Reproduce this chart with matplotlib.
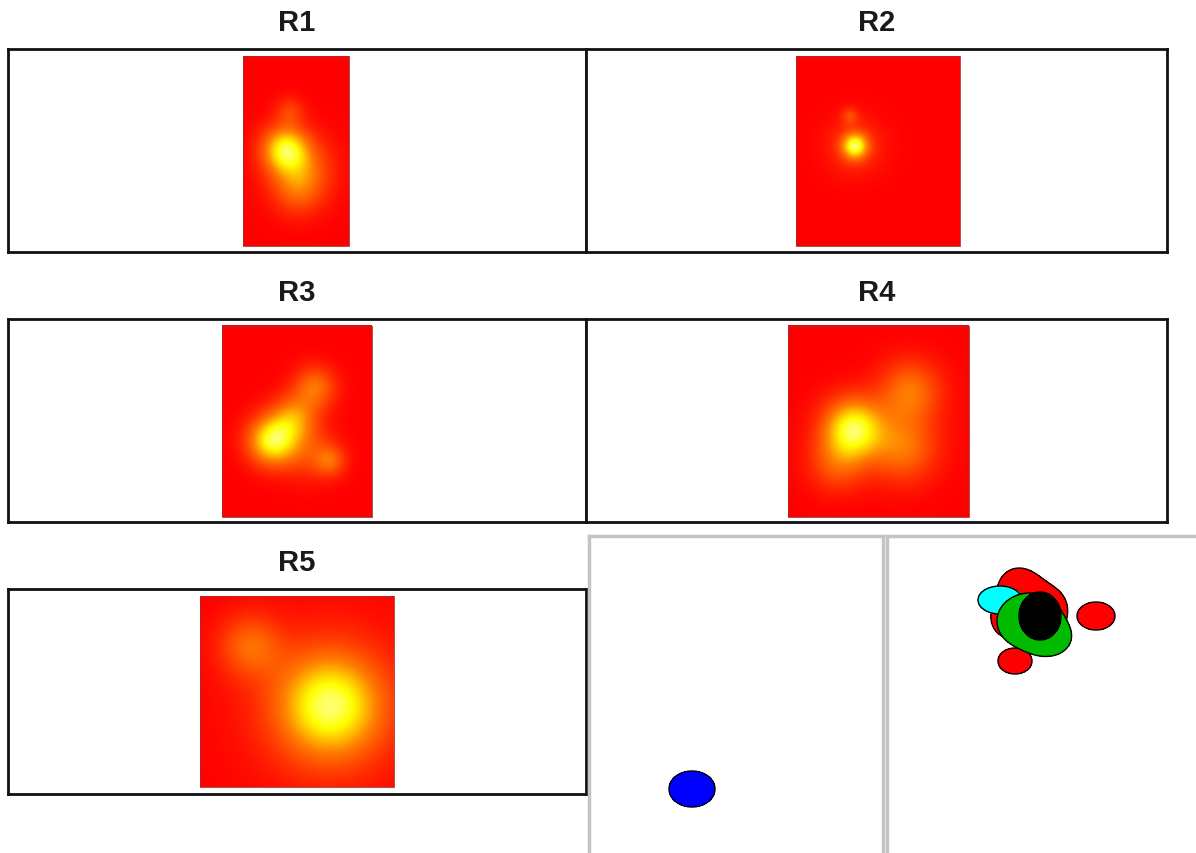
import numpy as np
import matplotlib
matplotlib.use("Agg")
import matplotlib.pyplot as plt
from matplotlib.colors import LinearSegmentedColormap

W, H = 1196, 854

# ---- data ---------------------------------------------------------------
titles = ["R1", "R2", "R3", "R4", "R5"]
# box extents in pixels (x0, y0, x1, y1)
boxes = [(8, 50, 586, 253), (586, 50, 1167, 253), (8, 320, 586, 523),
         (586, 320, 1167, 523), (8, 590, 586, 795)]
# heatmap extents in pixels
heat = [(243, 57, 349, 247), (796, 57, 960, 247), (222, 327, 372, 518),
        (788, 327, 969, 518), (200, 597, 394, 788)]
# hotspot components (local x, local y, sigma, amplitude)
R1_spots = [(42, 93, 16, 1.0), (58, 112, 22, 0.5), (47, 55, 10, 0.3), (55, 135, 18, 0.35)]
R2_spots = [(59, 90, 9, 1.0), (59, 90, 20, 0.25), (54, 60, 6, 0.3)]
R3_spots = [(50, 115, 17, 1.0), (72, 92, 16, 0.55), (93, 62, 15, 0.5),
            (108, 135, 11, 0.4), (85, 125, 20, 0.3)]
R4_spots = [(65, 103, 21, 1.0), (122, 66, 22, 0.5), (115, 122, 24, 0.5), (49, 138, 20, 0.35)]
R5_spots = [(130, 110, 36, 1.0), (130, 110, 62, 0.2), (50, 50, 22, 0.45)]
spots = [R1_spots, R2_spots, R3_spots, R4_spots, R5_spots]

# bottom-panel blobs: (color, [(cx, cy, rx, ry), ...])
left_blobs = [("#0000ff", [(692, 790, 23, 18)])]
right_blobs = [
    ("#ff0000", [(1018, 588, 18, 18), (1045, 610, 22, 22), (1010, 620, 18, 18), (1040, 630, 14, 14)]),
    ("#ff0000", [(1015, 662, 17, 13)]),
    ("#ff0000", [(1096, 617, 19, 14)]),
    ("#00ffff", [(1000, 601, 22, 14)]),
    ("#00bb00", [(1030, 622, 33, 28), (1050, 640, 15, 12)]),
    ("#000000", [(1040, 617, 21, 24)]),
]

# ---- drawing --------------------------------------------------------------
cmap = LinearSegmentedColormap.from_list(
    "hotred", [(0, "#ff0000"), (0.5, "#ff8000"), (0.85, "#ffff00"), (1.0, "#ffff70")])

fig = plt.figure(figsize=(W / 100, H / 100), dpi=100)
fig.patch.set_facecolor("white")


def px_axes(x0, y0, x1, y1):
    return fig.add_axes([x0 / W, 1 - y1 / H, (x1 - x0) / W, (y1 - y0) / H])


for t, b, h, sp in zip(titles, boxes, heat, spots):
    ax = px_axes(*b)
    ax.set_xlim(b[0], b[2])
    ax.set_ylim(b[3], b[1])
    ax.set_xticks([]); ax.set_yticks([])
    for s in ax.spines.values():
        s.set_color("#111111"); s.set_linewidth(2)
    hw, hh = h[2] - h[0], h[3] - h[1]
    yy, xx = np.mgrid[0:hh, 0:hw] + 0.5
    f = np.zeros_like(xx)
    for cx, cy, sg, a in sp:
        f += a * np.exp(-((xx - cx) ** 2 + (yy - cy) ** 2) / (2 * sg ** 2))
    f = np.clip(f / f.max(), 0, 1)
    ax.imshow(f, cmap=cmap, vmin=0, vmax=1, extent=[h[0], h[2], h[3], h[1]],
              aspect="auto", interpolation="bilinear")
    ax.add_patch(plt.Rectangle((h[0], h[1]), hw, hh, fill=False, ec="#a03030", lw=0.6))
    fig.text((b[0] + b[2]) / 2 / W, 1 - (b[1] - 27) / H, t, ha="center", va="center",
             fontsize=21, fontweight="bold", family="Liberation Sans", color="#1a1a1a")


def blob_panel(x0, x1, blobs, right_open=False):
    ax = px_axes(x0, 537, x1, 854)
    ax.set_xlim(x0, x1); ax.set_ylim(854, 537)
    ax.set_xticks([]); ax.set_yticks([])
    for s in ax.spines.values():
        s.set_color("#c4c4c4"); s.set_linewidth(2.5)
    ax.spines["bottom"].set_visible(False)
    if right_open:
        ax.spines["right"].set_visible(False)
    X, Y = np.meshgrid(np.linspace(x0, x1, 600), np.linspace(537, 854, 640))
    for z, (col, comps) in enumerate(blobs):
        F = np.zeros_like(X)
        for cx, cy, rx, ry in comps:
            F += np.exp(-np.log(2) * (((X - cx) / rx) ** 2 + ((Y - cy) / ry) ** 2))
        ax.contourf(X, Y, F, levels=[0.5, 1e9], colors=[col], zorder=2 + 2 * z)
        ax.contour(X, Y, F, levels=[0.5], colors="black", linewidths=1, zorder=3 + 2 * z)


blob_panel(589, 883, left_blobs)
blob_panel(887, 1196, right_blobs, right_open=True)

fig.savefig("out.png", dpi=100, facecolor="white")
